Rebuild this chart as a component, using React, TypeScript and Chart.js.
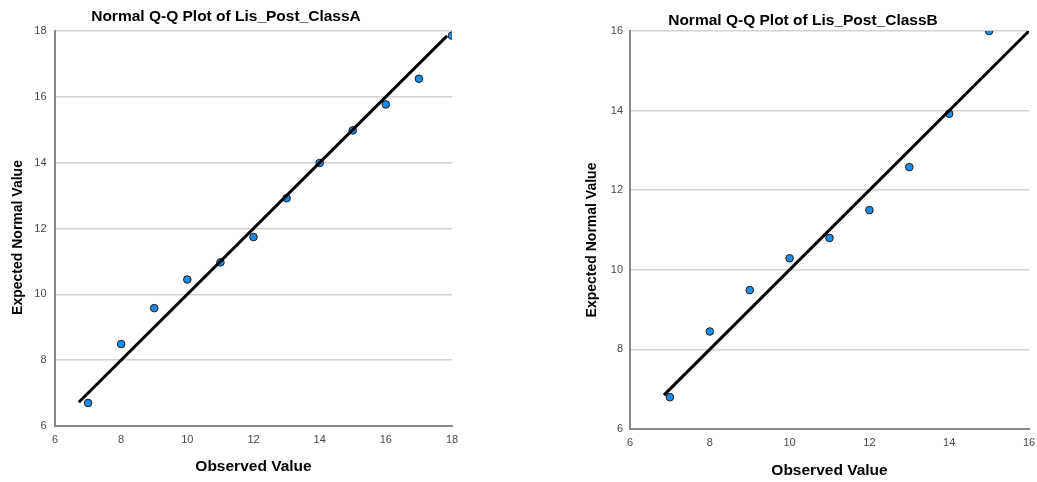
import React, { useEffect, useRef } from "react";
import { Chart, registerables } from "chart.js";

Chart.register(...registerables);

// ---------- Data ----------
const titleA = "Normal Q-Q Plot of Lis_Post_ClassA";
const observedA = [7, 8, 9, 10, 11, 12, 13, 14, 15, 16, 17, 18];
const expectedA = [6.7, 8.49, 9.58, 10.45, 10.97, 11.74, 12.92, 13.99, 14.98, 15.77, 16.55, 17.86];
const refLineA = [6.72, 17.85];
const xTicksA = [6, 8, 10, 12, 14, 16, 18];
const yTicksA = [6, 8, 10, 12, 14, 16, 18];

const titleB = "Normal Q-Q Plot of Lis_Post_ClassB";
const observedB = [7, 8, 9, 10, 11, 12, 13, 14, 15];
const expectedB = [6.8, 8.45, 9.49, 10.29, 10.8, 11.5, 12.58, 13.92, 16.0];
const refLineB = [6.85, 16.2];
const xTicksB = [6, 8, 10, 12, 14, 16];
const yTicksB = [6, 8, 10, 12, 14, 16];

const xAxisTitle = "Observed Value";
const yAxisTitle = "Expected Normal Value";

const FONT = "'Liberation Sans', Arial, sans-serif";

const yTitlePlugin = {
  id: "yTitle",
  afterDraw(chart: any, _args: any, opts: any) {
    const ctx = chart.ctx;
    ctx.save();
    ctx.translate(opts.x, opts.y);
    ctx.rotate(-Math.PI / 2);
    ctx.font = `bold 14px ${FONT}`;
    ctx.fillStyle = "#000";
    ctx.textAlign = "center";
    ctx.textBaseline = "middle";
    ctx.fillText(opts.text, 0, 0);
    ctx.restore();
  },
};

type Props = {
  title: string;
  observed: number[];
  expected: number[];
  refLine: number[];
  xTicks: number[];
  yTicks: number[];
  left: number;
  width: number;
  padRight: number;
  yAxisWidth: number;
  xAxisHeight: number;
  titlePad: { top: number; bottom: number };
  xTitlePadBottom: number;
  yTickPad: number;
  xTickPad: number;
  yTitlePos: { x: number; y: number };
};

function QQChart(p: Props) {
  const ref = useRef<HTMLCanvasElement | null>(null);
  useEffect(() => {
    if (!ref.current) return;
    const points = p.observed.map((x, i) => ({ x, y: p.expected[i] }));
    const line = p.refLine.map((v) => ({ x: v, y: v }));
    const chart = new Chart(ref.current, {
      type: "scatter",
      data: {
        datasets: [
          {
            type: "line",
            data: line,
            borderColor: "#000",
            borderWidth: 3,
            pointRadius: 0,
            fill: false,
            clip: 0,
            order: 0,
          } as any,
          {
            data: points,
            backgroundColor: "#1b8be6",
            borderColor: "#1a1a1a",
            borderWidth: 1,
            pointRadius: 3.8,
            clip: 0,
            order: 1,
          } as any,
        ],
      },
      options: {
        responsive: false,
        animation: false,
        events: [],
        layout: { padding: { left: 0, right: p.padRight, top: 0, bottom: 0 } },
        plugins: {
          legend: { display: false },
          tooltip: { enabled: false },
          title: {
            display: true,
            text: p.title,
            color: "#000",
            font: { family: FONT, size: 15.5, weight: "bold" },
            padding: p.titlePad,
          },
          yTitle: { text: yAxisTitle, x: p.yTitlePos.x, y: p.yTitlePos.y },
        } as any,
        scales: {
          x: {
            type: "linear",
            min: p.xTicks[0],
            max: p.xTicks[p.xTicks.length - 1],
            afterBuildTicks: (s: any) => {
              s.ticks = p.xTicks.map((v) => ({ value: v }));
            },
            afterFit: (s: any) => {
              s.height = p.xAxisHeight;
              s.paddingLeft = 0;
              s.paddingRight = 0;
            },
            grid: { display: false, drawTicks: false },
            border: { display: true, color: "#888", width: 2 },
            ticks: {
              color: "#4a4a4a",
              font: { family: FONT, size: 11 },
              padding: p.xTickPad,
              maxRotation: 0,
              autoSkip: false,
            },
            title: {
              display: true,
              text: xAxisTitle,
              color: "#000",
              font: { family: FONT, size: 15.5, weight: "bold" },
              padding: { top: 0, bottom: p.xTitlePadBottom },
            },
          },
          y: {
            type: "linear",
            min: p.yTicks[0],
            max: p.yTicks[p.yTicks.length - 1],
            afterBuildTicks: (s: any) => {
              s.ticks = p.yTicks.map((v) => ({ value: v }));
            },
            afterFit: (s: any) => {
              s.width = p.yAxisWidth;
            },
            grid: { display: true, drawTicks: false, color: "#d2d2d2", lineWidth: 1.5 },
            border: { display: true, color: "#888", width: 2 },
            ticks: {
              color: "#4a4a4a",
              font: { family: FONT, size: 11 },
              padding: p.yTickPad,
              autoSkip: false,
            },
          },
        },
      } as any,
      plugins: [yTitlePlugin as any],
    });
    return () => chart.destroy();
  }, []);
  return (
    <canvas
      ref={ref}
      width={p.width}
      height={482}
      style={{ position: "absolute", left: p.left, top: 0, width: p.width, height: 482 }}
    />
  );
}

export default function App() {
  return (
    <div style={{ position: "absolute", left: 0, top: 0, width: 1037, height: 482, background: "#fff", overflow: "hidden" }}>
      <QQChart
        title={titleA}
        observed={observedA}
        expected={expectedA}
        refLine={refLineA}
        xTicks={xTicksA}
        yTicks={yTicksA}
        left={0}
        width={470}
        padRight={18}
        yAxisWidth={55}
        xAxisHeight={56}
        titlePad={{ top: 7.4, bottom: 5 }}
        xTitlePadBottom={5.7}
        yTickPad={8.5}
        xTickPad={7}
        yTitlePos={{ x: 18.3, y: 237.5 }}
      />
      <QQChart
        title={titleB}
        observed={observedB}
        expected={expectedB}
        refLine={refLineB}
        xTicks={xTicksB}
        yTicks={yTicksB}
        left={577}
        width={460}
        padRight={8}
        yAxisWidth={53}
        xAxisHeight={53}
        titlePad={{ top: 11.4, bottom: 1 }}
        xTitlePadBottom={2}
        yTickPad={7}
        xTickPad={7}
        yTitlePos={{ x: 14.7, y: 240 }}
      />
    </div>
  );
}
